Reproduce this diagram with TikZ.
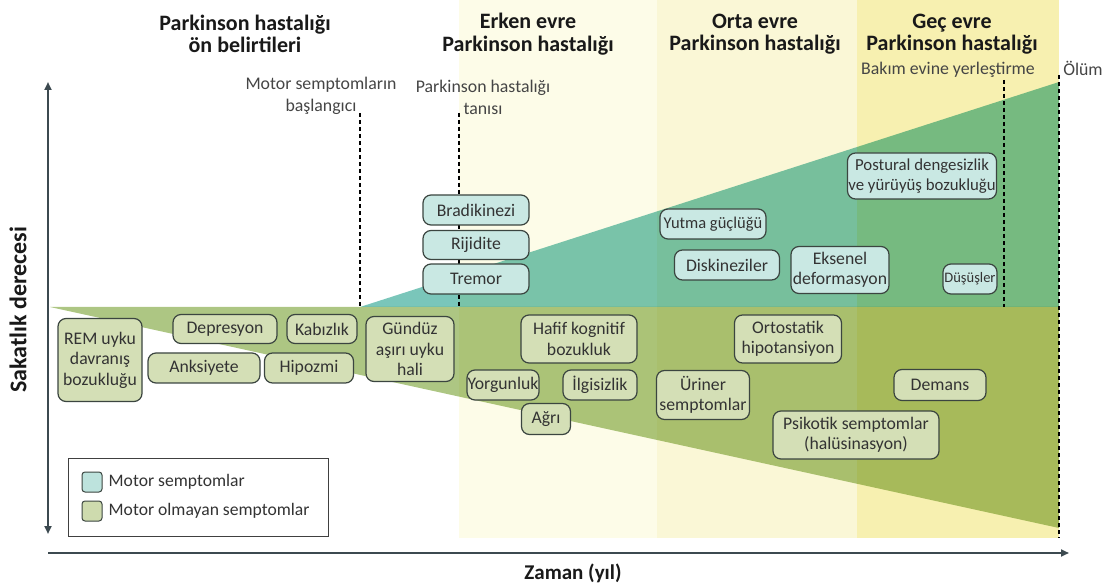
\documentclass[tikz,border=0pt]{standalone}
\usepackage{fontspec}
\setmainfont{Carlito}
\usetikzlibrary{arrows.meta,positioning}

\definecolor{erkenband}{HTML}{FDFCE8}
\definecolor{ortaband}{HTML}{FAF7D6}
\definecolor{gecband}{HTML}{F7F0B0}
\definecolor{motorarea}{HTML}{7AC6BA}
\definecolor{nonarea}{HTML}{ADC683}
\definecolor{motorbg}{HTML}{C9E8E3}
\definecolor{nonbg}{HTML}{D4DFB6}
\definecolor{boxline}{HTML}{3B4540}
\definecolor{axisline}{HTML}{3C4A50}
\definecolor{labeltext}{HTML}{454545}

\tikzset{
  symbox/.style={draw=boxline, line width=1.2pt, rounded corners=8pt, align=center, inner sep=0pt, text=black!80, font=\fontsize{17.7}{20.5}\selectfont},
  motorbox/.style={symbox, fill=motorbg},
  nonbox/.style={symbox, fill=nonbg},
  stagehead/.style={align=center, text=black!90, font=\bfseries\fontsize{22}{22.5}\selectfont},
  eventlabel/.style={align=center, text=labeltext, font=\fontsize{17.8}{22}\selectfont},
  eventline/.style={dash pattern=on 4pt off 3pt, line width=1.2pt},
  axis/.style={draw=axisline, line width=2.5pt, arrows={-{Triangle[length=8pt,width=7pt]}}},
  legendtext/.style={text=black!80, font=\fontsize{17.6}{20}\selectfont, inner sep=0pt}
}

\begin{document}
\begin{tikzpicture}[x=1pt,y=-1pt]
    \useasboundingbox (0,0) rectangle (1109,585);
    \fill[erkenband] (459,0) rectangle (657,538);
    \fill[ortaband] (657,0) rectangle (857,538);
    \fill[gecband] (857,0) rectangle (1059,538);
    \begin{scope}[blend mode=multiply]
        \fill[nonarea] (50,307)--(1059,307)--(1059,528)--cycle;
        \fill[motorarea] (360,307)--(1059,82)--(1059,307)--cycle;
    \end{scope}

    \node[stagehead] (prodrom) at (245,34) {Parkinson hastalığı\\ön belirtileri};
    \node[stagehead] (erken) at (528,34) {Erken evre\\Parkinson hastalığı};
    \node[stagehead] (orta) at (755,34) {Orta evre\\Parkinson hastalığı};
    \node[stagehead] (gec) at (952,34) {Geç evre\\Parkinson hastalığı};

    \node[eventlabel] (onset) at (321,96) {Motor semptomların\\başlangıcı};
    \node[eventlabel] (diagnosis) at (483,97) {Parkinson hastalığı\\tanısı};
    \node[eventlabel] (nursing) at (948,70) {Bakım evine yerleştirme};
    \node[eventlabel] (death) at (1083,68) {Ölüm};

    \coordinate (onsettop) at (360,113);
    \coordinate (onsetbot) at (360,307);
    \coordinate (diagtop) at (459,113);
    \coordinate (diagbot) at (459,307);
    \coordinate (nursetop) at (1004,80);
    \coordinate (nursebot) at (1004,307);
    \coordinate (deathtop) at (1059,75);
    \coordinate (deathbot) at (1059,538);
    \draw[eventline] (onsettop)--(onsetbot);
    \draw[eventline] (diagtop)--(diagbot);
    \draw[eventline] (nursetop)--(nursebot);
    \draw[eventline] (deathtop)--(deathbot);

    \node[motorbox, minimum width=106pt, minimum height=30pt] (bradikinezi) at (476,210) {Bradikinezi};
    \node[motorbox, minimum width=106pt, minimum height=29pt] (rijidite) at (476,245) {Rijidite};
    \node[motorbox, minimum width=106pt, minimum height=30pt] (tremor) at (476,279) {Tremor};
    \node[motorbox, minimum width=106pt, minimum height=30pt, font=\fontsize{16.5}{20}\selectfont] (yutma) at (713,224) {Yutma güçlüğü};
    \node[motorbox, minimum width=105pt, minimum height=30pt] (diskinezi) at (727,265) {Diskineziler};
    \node[motorbox, minimum width=98pt, minimum height=47pt] (eksenel) at (840,270) {Eksenel\\deformasyon};
    \node[motorbox, minimum width=149pt, minimum height=46pt, font=\fontsize{16.8}{20}\selectfont] (postural) at (922,176) {Postural dengesizlik\\ve yürüyüş bozukluğu};
    \node[motorbox, minimum width=54pt, minimum height=30pt, font=\fontsize{14.5}{18}\selectfont] (dusme) at (970,279) {Düşüşler};

    \node[nonbox, minimum width=84pt, minimum height=83pt] (rem) at (100,360) {REM uyku\\davranış\\bozukluğu};
    \node[nonbox, minimum width=104pt, minimum height=29pt] (depresyon) at (225,329) {Depresyon};
    \node[nonbox, minimum width=70pt, minimum height=29pt] (kabizlik) at (322,329) {Kabızlık};
    \node[nonbox, minimum width=112pt, minimum height=30pt] (anksiyete) at (204,368) {Anksiyete};
    \node[nonbox, minimum width=89pt, minimum height=30pt] (hipozmi) at (309,368) {Hipozmi};
    \node[nonbox, minimum width=88pt, minimum height=65pt] (gunduz) at (410,349) {Gündüz\\aşırı uyku\\hali};
    \node[nonbox, minimum width=116pt, minimum height=48pt] (kognitif) at (579,339) {Hafif kognitif\\bozukluk};
    \node[nonbox, minimum width=72pt, minimum height=30pt] (yorgunluk) at (503,385) {Yorgunluk};
    \node[nonbox, minimum width=74pt, minimum height=30pt] (ilgisizlik) at (600,385) {İlgisizlik};
    \node[nonbox, minimum width=49pt, minimum height=31pt] (agri) at (546,419) {Ağrı};
    \node[nonbox, minimum width=93pt, minimum height=49pt] (uriner) at (703,395) {Üriner\\semptomlar};
    \node[nonbox, minimum width=107pt, minimum height=48pt] (ortostatik) at (788,339) {Ortostatik\\hipotansiyon};
    \node[nonbox, minimum width=92pt, minimum height=31pt] (demans) at (940,385) {Demans};
    \node[nonbox, minimum width=166pt, minimum height=48pt] (psikotik) at (856,435) {Psikotik semptomlar\\(halüsinasyon)};

    \node[draw=black!75, line width=1pt, fill=white, minimum width=260pt, minimum height=78pt] (legend) at (198,497) {};
    \node[draw=boxline, line width=1pt, fill=motorbg!85!motorarea, rounded corners=3pt, minimum width=20pt, minimum height=20pt] (motorkey) at (92,482) {};
    \node[draw=boxline, line width=1pt, fill=nonbg!85!nonarea, rounded corners=3pt, minimum width=20pt, minimum height=20pt] (nonkey) at (92,511) {};
    \node[legendtext, right=6pt of motorkey] (motortext) {Motor semptomlar};
    \node[legendtext, right=6pt of nonkey] (nontext) {Motor olmayan semptomlar};

    \coordinate (ytop) at (48,82);
    \coordinate (ybot) at (48,534);
    \coordinate (xleft) at (48,553);
    \coordinate (xright) at (1069,553);
    \draw[axis, arrows={{Triangle[length=8pt,width=7pt]}-{Triangle[length=8pt,width=7pt]}}] (ytop)--(ybot);
    \draw[axis] (xleft)--(xright);
    \node[rotate=90, font=\bfseries\fontsize{24}{26}\selectfont, text=black!90] (ylabel) at (18,310) {Sakatlık derecesi};
    \node[font=\bfseries\fontsize{21}{24}\selectfont, text=black!90] (xlabel) at (573,573) {Zaman (yıl)};
\end{tikzpicture}
\end{document}
